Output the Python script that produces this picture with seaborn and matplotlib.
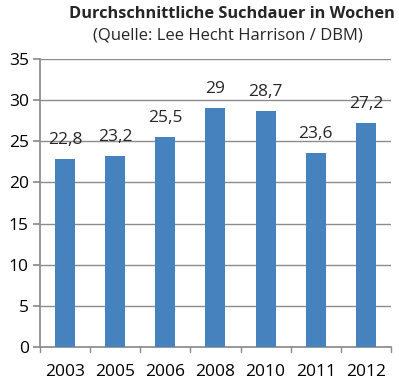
import matplotlib
matplotlib.use("Agg")
import matplotlib.pyplot as plt
import seaborn as sns
import pandas as pd

years = ["2003", "2005", "2006", "2008", "2010", "2011", "2012"]
weeks = [22.8, 23.2, 25.5, 29.0, 28.7, 23.6, 27.2]
value_labels = ["22,8", "23,2", "25,5", "29", "28,7", "23,6", "27,2"]

sns.set_theme(style="white")
plt.rcParams["font.family"] = ["Open Sans", "DejaVu Sans"]

df = pd.DataFrame({"Jahr": years, "Wochen": weeks})

fig = plt.figure(figsize=(3.99, 3.81), dpi=100)
ax = fig.add_axes([0.100, 0.089, 0.880, 0.756])

sns.barplot(data=df, x="Jahr", y="Wochen", color="#4682bd", saturation=1,
            width=0.4, linewidth=0, ax=ax, zorder=3)

ax.set_ylim(0, 35)
ax.set_yticks(range(0, 36, 5))
ax.set_xlim(-0.5, len(years) - 0.5)
ax.grid(axis="y", color="#8c8c8c", linewidth=1, zorder=0)
ax.set_xlabel("")
ax.set_ylabel("")

for s in ["top", "right"]:
    ax.spines[s].set_visible(False)
ax.spines["left"].set_color("#8c8c8c")
ax.spines["bottom"].set_color("#8c8c8c")

ax.tick_params(axis="y", labelsize=12.5, colors="#8c8c8c", labelcolor="black",
               left=True, length=5, direction="out", pad=3)
ax.tick_params(axis="x", labelsize=12.5, bottom=False, labelcolor="black", pad=6)

# category boundary ticks on x axis
for i in range(len(years) + 1):
    ax.plot([i - 0.5, i - 0.5], [0, -0.6], color="#8c8c8c", lw=1,
            clip_on=False, zorder=4)

for i, lab in enumerate(value_labels):
    ax.annotate(lab, (i, weeks[i]), xytext=(0, 8), textcoords="offset points",
                ha="center", va="bottom", fontsize=12.5)

fig.text(0.99, 0.962, "Durchschnittliche Suchdauer in Wochen", ha="right",
         va="center", fontsize=11.8, fontweight="bold")
fig.text(0.57, 0.908, "(Quelle: Lee Hecht Harrison / DBM)", ha="center",
         va="center", fontsize=12)

fig.savefig("out.png", dpi=100)
